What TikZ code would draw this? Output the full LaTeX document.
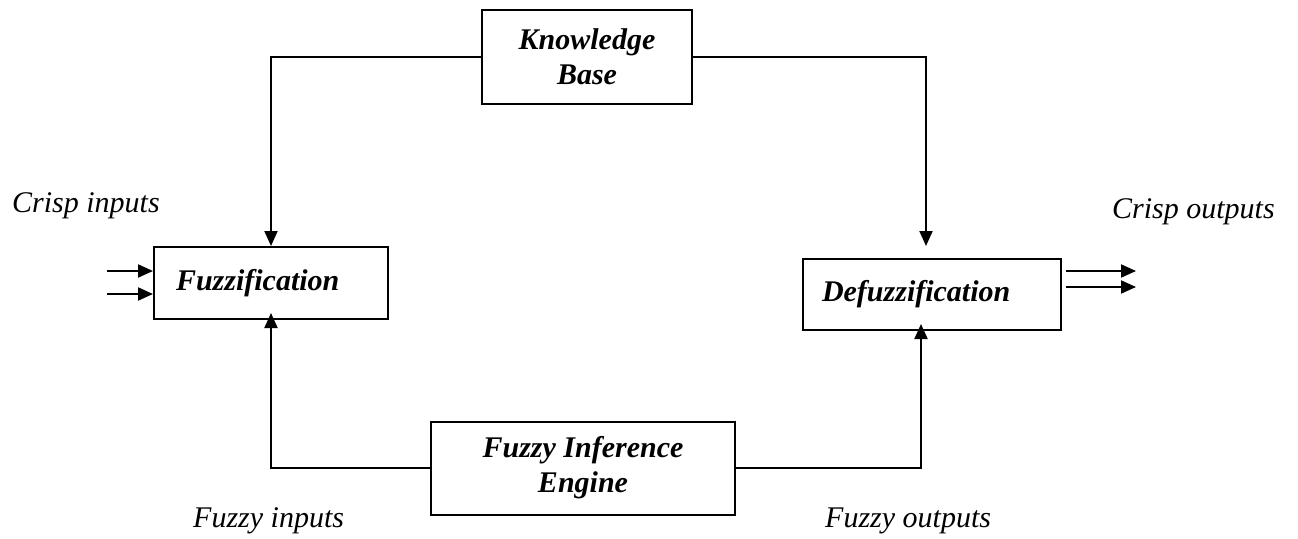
\documentclass[tikz,border=0pt]{standalone}
\usepackage{fontspec}
\setmainfont{Liberation Serif}
\usetikzlibrary{arrows.meta}
\begin{document}
\begin{tikzpicture}[x=1pt,y=-1pt,
  block/.style={draw, line width=2pt, inner sep=0pt,
    font=\fontsize{30}{35}\selectfont\bfseries\itshape},
  lbl/.style={font=\fontsize{30}{35}\selectfont\itshape, inner sep=0pt},
  link/.style={line width=2pt, -{Triangle[length=15pt,width=13pt]}}]
\useasboundingbox (0,0) rectangle (1298,538);

% processing blocks
\node[block, minimum width=210pt, minimum height=94pt, align=center] (kb) at (587,57) {Knowledge\\Base};
\node[block, minimum width=234pt, minimum height=72pt, text width=190pt, inner xsep=22pt, align=left] (fuzz) at (271,283) {Fuzzification};
\node[block, minimum width=258pt, minimum height=71pt, text width=220pt, inner xsep=19pt, align=left] (defuzz) at (932,294.5) {Defuzzification};
\node[block, minimum width=304pt, minimum height=93pt, align=center] (fie) at (583,468) {Fuzzy Inference\\Engine};

% free ends of the signal lines
\coordinate (dtop) at (926,246);
\coordinate (in1) at (107,271);
\coordinate (in2) at (107,294);
\coordinate (o1s) at (1066,271);
\coordinate (o1e) at (1136,271);
\coordinate (o2s) at (1066,287);
\coordinate (o2e) at (1136,287);

% knowledge base feeds both interface stages
\draw[link] (kb.west) -| (fuzz.north);
\draw[link] (kb.east) -| (dtop);

% inference engine loops back to both stages
\draw[link] (fie.west) -| ([yshift=7pt]fuzz.south);
\draw[link] (fie.east) -| ([xshift=-11pt,yshift=7pt]defuzz.south);

% crisp inputs and outputs
\draw[link] (in1) -- (in1 -| fuzz.west);
\draw[link] (in2) -- (in2 -| fuzz.west);
\draw[link] (o1s) -- (o1e);
\draw[link] (o2s) -- (o2e);

% captions
\node[lbl, anchor=base west] (ci) at (12,212) {Crisp inputs};
\node[lbl, anchor=base west] (co) at (1112,218) {Crisp outputs};
\node[lbl, anchor=base west] (fi) at (193,527) {Fuzzy inputs};
\node[lbl, anchor=base west] (fo) at (825,527) {Fuzzy outputs};
\end{tikzpicture}
\end{document}
